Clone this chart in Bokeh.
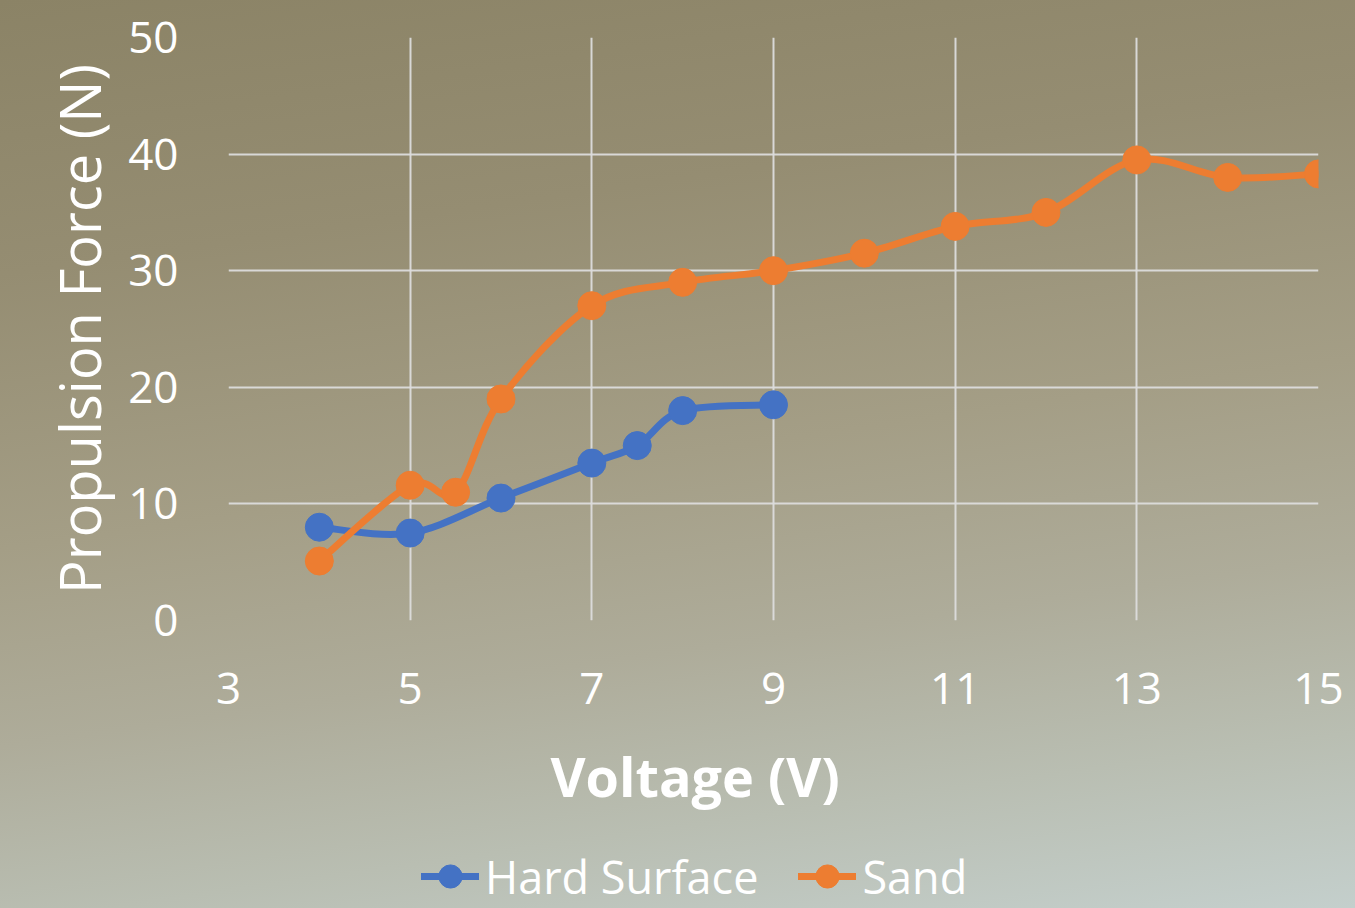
from bokeh.plotting import figure
from bokeh.models import Legend, LegendItem, FixedTicker, Range1d, Title
from bokeh.layouts import column
from bokeh.embed import file_html
from bokeh.resources import INLINE

# ---- data ----
hard_v = [4, 5, 6, 7, 7.5, 8, 9]
hard_f = [8.0, 7.5, 10.5, 13.5, 15.0, 18.0, 18.5]
sand_v = [4, 5, 5.5, 6, 7, 8, 9, 10, 11, 12, 13, 14, 15]
sand_f = [5.1, 11.6, 11.0, 19.0, 27.0, 29.0, 30.0, 31.5, 33.8, 35.0, 39.5, 38.0, 38.3]
x_ticks = [3, 5, 7, 9, 11, 13, 15]
y_ticks = [0, 10, 20, 30, 40, 50]
series_names = ["Hard Surface", "Sand"]

BLUE = "#4472c4"
ORANGE = "#ed7d31"
FONT = "Open Sans"


def smooth_segments(xs, ys):
    """Catmull-Rom style Bezier control points (like a spreadsheet 'smoothed line')."""
    n = len(xs)
    out = dict(x0=[], y0=[], x1=[], y1=[], cx0=[], cy0=[], cx1=[], cy1=[])
    for i in range(n - 1):
        pxm, pym = (xs[i - 1], ys[i - 1]) if i > 0 else (xs[i], ys[i])
        px2, py2 = (xs[i + 2], ys[i + 2]) if i + 2 < n else (xs[i + 1], ys[i + 1])
        out["x0"].append(xs[i]); out["y0"].append(ys[i])
        out["x1"].append(xs[i + 1]); out["y1"].append(ys[i + 1])
        out["cx0"].append(xs[i] + (xs[i + 1] - pxm) / 6.0)
        out["cy0"].append(ys[i] + (ys[i + 1] - pym) / 6.0)
        out["cx1"].append(xs[i + 1] - (px2 - xs[i]) / 6.0)
        out["cy1"].append(ys[i + 1] - (py2 - ys[i]) / 6.0)
    return out


p = figure(width=1355, height=844, output_backend="svg", toolbar_location=None,
           x_range=Range1d(3, 15), y_range=Range1d(0, 50),
           min_border_left=228, min_border_right=37, min_border_top=37, min_border_bottom=224)

p.background_fill_alpha = 0
p.border_fill_alpha = 0
p.outline_line_color = None

# grid
p.xgrid.ticker = FixedTicker(ticks=x_ticks)
p.ygrid.ticker = FixedTicker(ticks=y_ticks)
for g in (p.xgrid, p.ygrid):
    g.grid_line_color = "#dcdcdc"
    g.grid_line_width = 2
    g.grid_line_alpha = 0.95

# axes
p.xaxis.ticker = FixedTicker(ticks=x_ticks)
p.yaxis.ticker = FixedTicker(ticks=y_ticks)
for ax in (p.xaxis, p.yaxis):
    ax.axis_line_color = None
    ax.major_tick_line_color = None
    ax.minor_tick_line_color = None
    ax.major_tick_out = 0
    ax.major_tick_in = 0
    ax.major_label_text_font = FONT
    ax.major_label_text_font_size = "44px"
    ax.major_label_text_color = "white"
    ax.axis_label_text_font = FONT
    ax.axis_label_text_color = "white"

p.xaxis.major_label_standoff = 52

p.yaxis.axis_label = "Propulsion Force (N)"
p.yaxis.axis_label_text_font_style = "normal"
p.yaxis.axis_label_text_font_size = "56px"
p.yaxis.major_label_standoff = 50
p.yaxis.axis_label_standoff = 8

xtitle = Title(text="Voltage (V)", align="left", offset=322, standoff=60,
               text_font=FONT, text_font_size="54px", text_font_style="bold",
               text_color="white")
p.add_layout(xtitle, "below")

# series
hs = smooth_segments(hard_v, hard_f)
ss = smooth_segments(sand_v, sand_f)
p.bezier(source=hs, x0="x0", y0="y0", x1="x1", y1="y1", cx0="cx0", cy0="cy0",
         cx1="cx1", cy1="cy1", line_color=BLUE, line_width=7, line_cap="round")
p.scatter(hard_v, hard_f, size=28, fill_color=BLUE, line_color=BLUE)
p.bezier(source=ss, x0="x0", y0="y0", x1="x1", y1="y1", cx0="cx0", cy0="cy0",
         cx1="cx1", cy1="cy1", line_color=ORANGE, line_width=7, line_cap="round")
p.scatter(sand_v, sand_f, size=28, fill_color=ORANGE, line_color=ORANGE)

# legend strip (separate small canvas so the legend can sit under the axis title);
# its renderers use the series data but lie outside this strip's ranges, so only
# their legend swatches are seen
q = figure(width=1355, height=64, output_backend="svg", toolbar_location=None,
           x_range=Range1d(-2, -1), y_range=Range1d(-2, -1), min_border=0)
q.background_fill_alpha = 0
q.border_fill_alpha = 0
q.outline_line_color = None
q.xaxis.visible = False
q.yaxis.visible = False
q.xgrid.visible = False
q.ygrid.visible = False
items = []
for name, col, xs, ys in zip(series_names, [BLUE, ORANGE], [hard_v, sand_v], [hard_f, sand_f]):
    lr = q.line(x=xs, y=ys, line_color=col, line_width=7, line_cap="round")
    sr = q.scatter(x=xs, y=ys, size=28, fill_color=col, line_color=col)
    items.append(LegendItem(label=name, renderers=[lr, sr]))
legend = Legend(items=items, orientation="horizontal", location=(193, -1),
                label_text_font=FONT, label_text_font_size="45px", label_text_color="white",
                glyph_width=58, glyph_height=66, label_standoff=6, spacing=40,
                background_fill_alpha=0, border_line_color=None, margin=0, padding=0)
q.add_layout(legend, "center")

layout = column(p, q, spacing=0)
html = file_html(layout, INLINE, title="chart")
css = ("<style>html,body{background:linear-gradient(172deg,#8b8366 0%,#958d72 25%,"
       "#a49e86 50%,#aeac9a 68%,#b9beb2 84%,#c4cfcc 100%) fixed;min-height:100%;}</style>")
html = html.replace("</head>", css + "</head>", 1)
open("out.html", "w").write(html)
